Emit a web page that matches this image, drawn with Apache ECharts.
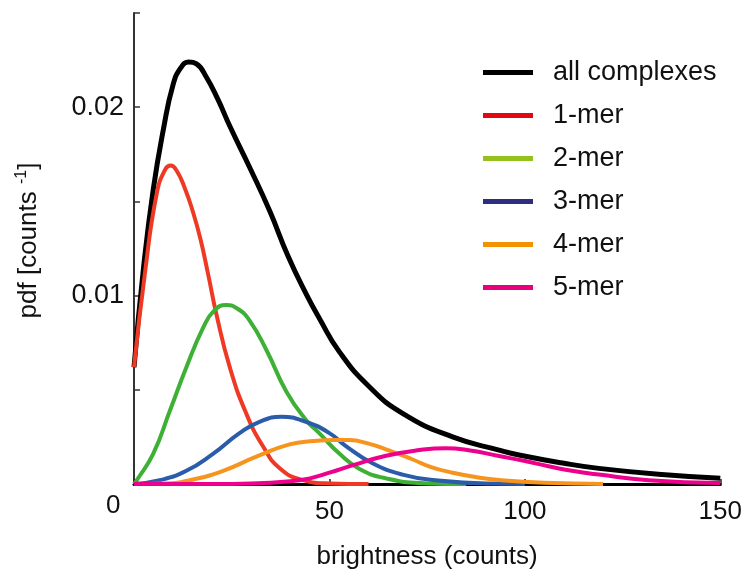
<!DOCTYPE html>
<html>
<head>
<meta charset="utf-8">
<script src="https://cdn.jsdelivr.net/npm/echarts@6/dist/echarts.min.js"></script>
<style>
  html, body { margin: 0; padding: 0; background: #fff; }
  #chart { width: 745px; height: 575px; }
</style>
</head>
<body>
<div id="chart"></div>
<script>
// series names, legend order
const seriesNames = ["all complexes", "1-mer", "2-mer", "3-mer", "4-mer", "5-mer"];

// curve points: [brightness, pdf]
const allComplexes = [[0,0.0062],[2.4,0.0114],[4.9,0.0156],[7.5,0.0188],[10,0.0212],[12,0.0221],[14,0.0224],[16,0.0223],[18.5,0.0216],[21.5,0.0204],[24.5,0.0190],[29.6,0.0168],[34.7,0.0145],[39.4,0.0121],[44,0.0101],[47.4,0.0088],[52.6,0.0070],[60,0.0052],[68.7,0.00375],[81.5,0.0025],[93.4,0.0018],[98.5,0.00154],[110,0.0011],[118.9,0.00083],[135,0.0005],[150,0.0003]];
const mer1 = [[0,0.0062],[2.8,0.0112],[5.8,0.0154],[8,0.0167],[9.4,0.0169],[11,0.0166],[13,0.0157],[15,0.0145],[17,0.0130],[19,0.0111],[21.1,0.0090],[24.5,0.0062],[28.7,0.00375],[33,0.0020],[37.2,0.00085],[43,0.00022],[50,0.00003],[60,0]];
const mer2 = [[0,0],[0.7,0.0002],[4.9,0.0016],[9.2,0.0039],[13.4,0.0062],[17.7,0.0083],[20.5,0.0092],[23.6,0.0095],[26.5,0.0093],[29.5,0.0087],[33.9,0.0071],[39,0.0049],[44,0.0034],[47.4,0.0027],[52.6,0.0016],[57.7,0.0008],[64.5,0.0003],[75,0.00003],[85,0]];
const mer3 = [[0,0],[6.6,0.0002],[13.4,0.0007],[20.2,0.0016],[27,0.0027],[32.1,0.0033],[37.7,0.00357],[44,0.0033],[50,0.0027],[54.3,0.0020],[61,0.0011],[68.7,0.0005],[77.2,0.0002],[90,0.00002],[100,0]];
const mer4 = [[0,0],[8,0.00003],[14.3,0.0002],[22.8,0.0007],[31.3,0.00145],[39.8,0.0021],[46,0.00228],[51,0.00234],[55,0.00233],[60,0.00214],[65,0.0018],[71.3,0.0013],[76,0.0009],[81.5,0.0006],[87,0.00038],[94,0.0002],[105,0.00006],[120,0]];
const mer5 = [[0,0],[20,0],[30,0.00003],[40,0.00015],[45,0.0003],[50,0.0006],[56,0.0010],[64.5,0.0015],[73,0.0018],[79.8,0.0019],[86,0.00178],[93,0.0015],[100,0.00122],[106,0.00094],[112,0.0007],[118.9,0.0005],[131.6,0.0002],[150,0.00005]];

const seriesData = [allComplexes, mer1, mer2, mer3, mer4, mer5];
const lineColors = ["#000000", "#ee3a24", "#3db035", "#2a5caa", "#f7941d", "#ec008c"];
const legendColors = ["#000000", "#e30613", "#95c11f", "#2e2d7f", "#f39200", "#e6007e"];
const lineWidths = [5, 4, 4, 4, 4, 4];

const chart = echarts.init(document.getElementById("chart"));
const font = "Liberation Sans, Arial, sans-serif";

const option = {
  animation: false,
  backgroundColor: "#fff",
  grid: {
    left: 134,
    right: 23,
    top: 13,
    bottom: 91
  },
  legend: {
    orient: "vertical",
    left: 478,
    top: 54,
    icon: "rect",
    itemWidth: 50,
    itemHeight: 5,
    itemGap: 16,
    textStyle: {
      fontFamily: font,
      fontSize: 27,
      color: "#111",
      padding: [0, 0, 0, 15]
    },
    data: seriesNames.map((n, i) => ({
      name: n,
      itemStyle: { color: legendColors[i] }
    }))
  },
  xAxis: {
    type: "value",
    min: 0,
    max: 150,
    interval: 50,
    name: "brightness (counts)",
    nameLocation: "middle",
    nameGap: 60,
    nameTextStyle: {
      fontFamily: font,
      fontSize: 26,
      color: "#111"
    },
    axisLine: {
      lineStyle: { color: "#000", width: 3 }
    },
    axisTick: {
      inside: true,
      length: 5,
      lineStyle: { color: "#222", width: 1.5 }
    },
    axisLabel: {
      margin: 15,
      fontFamily: font,
      fontSize: 26,
      color: "#111",
      formatter: v => (v === 0 ? "" : String(v))
    },
    splitLine: { show: false }
  },
  yAxis: {
    type: "value",
    min: 0,
    max: 0.025,
    interval: 0.005,
    name: "pdf [counts {sup|-1}]",
    nameLocation: "middle",
    nameRotate: 90,
    nameGap: 90,
    nameTextStyle: {
      fontFamily: font,
      fontSize: 26,
      color: "#111",
      padding: [0, 0, 0, 16],
      rich: {
        sup: {
          fontFamily: font,
          fontSize: 16,
          color: "#111",
          verticalAlign: "top",
          lineHeight: 30
        }
      }
    },
    axisLine: {
      lineStyle: { color: "#333", width: 2 }
    },
    axisTick: {
      inside: true,
      length: 6,
      lineStyle: { color: "#333", width: 1.5 }
    },
    axisLabel: {
      margin: 10,
      fontFamily: font,
      fontSize: 27,
      color: "#111",
      formatter: v => {
        const k = Math.round(v * 1000);
        return (k === 10 || k === 20) ? (k / 1000).toFixed(2) : "";
      }
    },
    splitLine: { show: false }
  },
  graphic: [
    {
      type: "text",
      left: 106,
      top: 493,
      style: {
        text: "0",
        fontFamily: font,
        fontSize: 26,
        fill: "#111"
      }
    }
  ],
  series: seriesNames.map((n, i) => ({
    name: n,
    type: "line",
    data: seriesData[i],
    smooth: 0.5,
    showSymbol: false,
    color: lineColors[i],
    lineStyle: { color: lineColors[i], width: lineWidths[i] },
    z: i === 0 ? 2 : 3
  }))
};

chart.setOption(option);
</script>
</body>
</html>
